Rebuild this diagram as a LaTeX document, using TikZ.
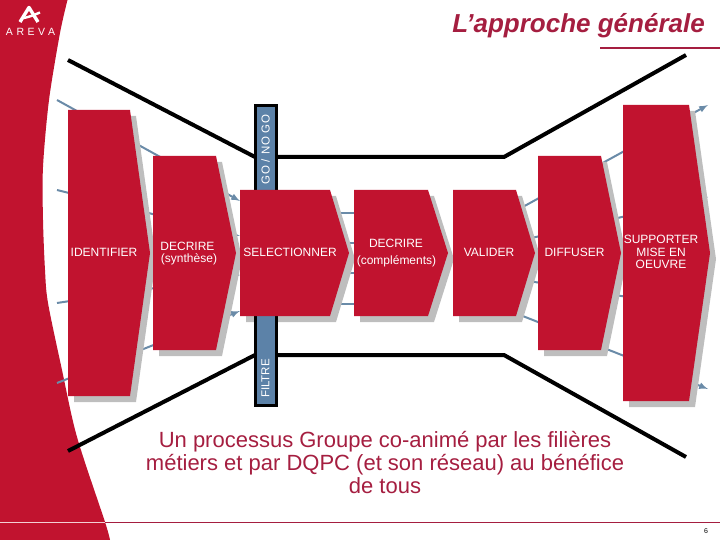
\documentclass[tikz,border=0pt]{standalone}
\usepackage{fontspec}
\setmainfont{Liberation Sans}
\definecolor{arevared}{HTML}{C1132F}
\definecolor{rulered}{HTML}{A51E40}
\definecolor{shadowgrey}{HTML}{BEBEBE}
\definecolor{barblue}{HTML}{5C82A8}
\definecolor{fanblue}{HTML}{6A8BA8}
\tikzset{
  stepfill/.style={fill=arevared},
  stepshadow/.style={fill=shadowgrey, shift={(6,6)}},
  fanline/.style={draw=fanblue, line width=2pt},
  funnel/.style={draw=black, line width=4pt},
  barbox/.style={draw=black, fill=barblue, line width=3pt, minimum width=21pt, inner sep=0pt},
  barlabel/.style={text=white, rotate=90, font=\fontsize{11.5}{11.5}\selectfont},
  steplabel/.style={text=white, align=center, inner sep=0pt, font=\fontsize{12}{12.5}\selectfont}
}
\begin{document}
\begin{tikzpicture}[x=1pt,y=-1pt]
\useasboundingbox (0,0) rectangle (720,540);
% left band with the logo
\fill[arevared] (0,0) -- plot[smooth] coordinates {(67.5,0) (60,33) (49,100) (43,167) (43,220) (45,270) (48,303) (62,370) (77,437) (105,522) (110,540)} -- (0,540) -- cycle;
\draw[white, line width=3.4pt, line join=round] (20,22) -- (29,7.5) -- (38,22);
\draw[white, line width=2.4pt] (24,18) .. controls (29,17) and (34,15) .. (40,12.5);
\node[text=white, font=\fontsize{10.5}{10.5}\selectfont\addfontfeatures{LetterSpace=34}] (logotext) at (30.5,32) {AREVA};
% rules and title
\draw[rulered, line width=0.8pt] (105,522) -- (720,522);
\draw[white!80!arevared, line width=0.8pt] (0,522) -- (105,522);
\draw[rulered, line width=2.6pt] (600,48) -- (720,48);
\node[anchor=east, text=rulered, font=\fontsize{26}{26}\selectfont\bfseries\itshape, inner sep=0pt] (title) at (705,26) {L’approche générale};
% ends of the lines
\coordinate (inA) at (57,100);
\coordinate (inB) at (57,190);
\coordinate (inC) at (57,303);
\coordinate (inD) at (57,383);
\coordinate (selA) at (240,201);
\coordinate (selB) at (240,236);
\coordinate (selC) at (240,275);
\coordinate (selD) at (240,311);
\coordinate (midA) at (240,213);
\coordinate (midB) at (240,243);
\coordinate (midC) at (240,273);
\coordinate (midD) at (240,304);
\coordinate (decA) at (360,213);
\coordinate (decB) at (360,243);
\coordinate (decC) at (360,273);
\coordinate (decD) at (360,304);
\coordinate (valA) at (510,214);
\coordinate (valB) at (510,243);
\coordinate (valC) at (510,278);
\coordinate (valD) at (510,311);
\coordinate (outA) at (708,105);
\coordinate (outB) at (708,197);
\coordinate (outC) at (708,310);
\coordinate (outD) at (708,389);
\draw[fanline, -latex] (inA) -- (selA);
\draw[fanline, -latex] (inB) -- (selB);
\draw[fanline, -latex] (inC) -- (selC);
\draw[fanline, -latex] (inD) -- (selD);
\draw[fanline] (midA) -- (decA);
\draw[fanline] (midB) -- (decB);
\draw[fanline] (midC) -- (decC);
\draw[fanline] (midD) -- (decD);
\draw[fanline, -latex] (valA) -- (outA);
\draw[fanline, -latex] (valB) -- (outB);
\draw[fanline, -latex] (valC) -- (outC);
\draw[fanline, -latex] (valD) -- (outD);
% funnel
\coordinate (topL) at (68,60);
\coordinate (topM) at (255,157);
\coordinate (topN) at (278,157);
\coordinate (topO) at (504,157);
\coordinate (topR) at (686,55);
\coordinate (botL) at (68,451);
\coordinate (botM) at (255,355);
\coordinate (botN) at (278,355);
\coordinate (botO) at (504,355);
\coordinate (botR) at (686,457);
\draw[funnel] (topL) -- (topM);
\draw[funnel] (topN) -- (topO) -- (topR);
\draw[funnel] (botL) -- (botM);
\draw[funnel] (botN) -- (botO) -- (botR);
% shadows
\fill[stepshadow] (68,110) -- (130,110) -- (150,253) -- (130,396) -- (68,396) -- cycle;
\fill[stepshadow] (153,156) -- (216,156) -- (236,253) -- (216,350) -- (153,350) -- cycle;
\fill[stepshadow] (240,190) -- (330,190) -- (349,253) -- (330,316) -- (240,316) -- cycle;
\fill[stepshadow] (354,190) -- (428,190) -- (448,253) -- (428,316) -- (354,316) -- cycle;
\fill[stepshadow] (453,190) -- (516,190) -- (535,253) -- (516,316) -- (453,316) -- cycle;
\fill[stepshadow] (538,156) -- (601,156) -- (621,253) -- (601,350) -- (538,350) -- cycle;
\fill[stepshadow] (623,105) -- (689,105) -- (710,253) -- (689,401) -- (623,401) -- cycle;
% bars
\node[barbox, minimum height=89.5pt] (goBar) at (266,150.25) {};
\node[barbox, minimum height=93.5pt] (filtreBar) at (266,358.75) {};
\node[barlabel] (goLabel) at (265.5,149.5) {\addfontfeatures{LetterSpace=6}GO / NO GO};
\node[barlabel] (filtreLabel) at (265.5,378.5) {FILTRE};
% steps
\fill[stepfill] (68,110) -- (130,110) -- (150,253) -- (130,396) -- (68,396) -- cycle;
\fill[stepfill] (153,156) -- (216,156) -- (236,253) -- (216,350) -- (153,350) -- cycle;
\fill[stepfill] (240,190) -- (330,190) -- (349,253) -- (330,316) -- (240,316) -- cycle;
\fill[stepfill] (354,190) -- (428,190) -- (448,253) -- (428,316) -- (354,316) -- cycle;
\fill[stepfill] (453,190) -- (516,190) -- (535,253) -- (516,316) -- (453,316) -- cycle;
\fill[stepfill] (538,156) -- (601,156) -- (621,253) -- (601,350) -- (538,350) -- cycle;
\fill[stepfill] (623,105) -- (689,105) -- (710,253) -- (689,401) -- (623,401) -- cycle;
\node[steplabel] (identifier) at (104,252.5) {IDENTIFIER};
\node[steplabel] (decrire) at (187.5,246.5) {DECRIRE};
\node[steplabel] (synthese) at (189,259) {(synthèse)};
\node[steplabel] (selectionner) at (290,252.5) {SELECTIONNER};
\node[steplabel] (decrirebis) at (396,243.5) {DECRIRE};
\node[steplabel] (complements) at (396.5,261.5) {(compléments)};
\node[steplabel] (valider) at (489,252.5) {VALIDER};
\node[steplabel] (diffuser) at (574.5,252.5) {DIFFUSER};
\node[steplabel] (supporter) at (661,252) {SUPPORTER\\MISE EN\\OEUVRE};
% bottom text and page number
\node[text=rulered, align=center, font=\fontsize{22}{23}\selectfont, inner sep=0pt] (caption) at (385,462.5) {Un processus Groupe co-animé par les filières\\métiers et par DQPC (et son réseau) au bénéfice\\de tous};
\node[font=\fontsize{7}{7}\selectfont, inner sep=0pt] (pagenum) at (706,531) {6};
\end{tikzpicture}
\end{document}
